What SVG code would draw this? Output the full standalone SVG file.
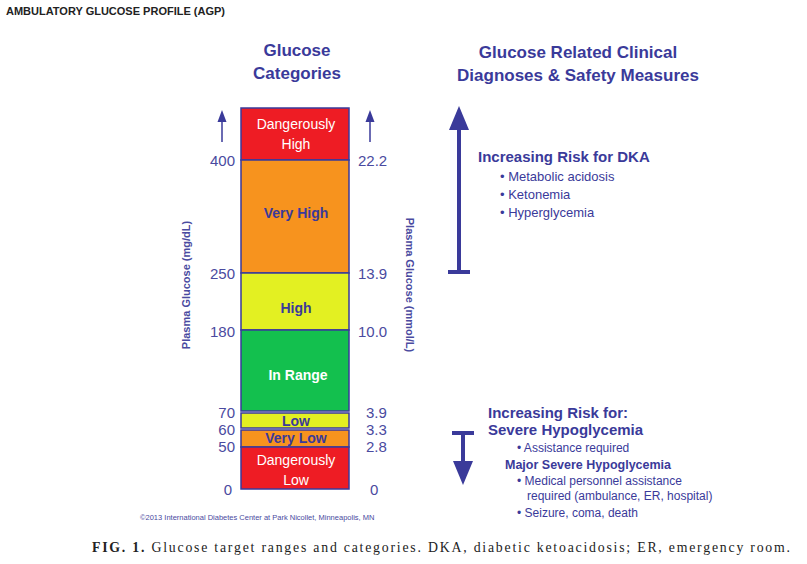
<svg xmlns="http://www.w3.org/2000/svg" width="807" height="564" viewBox="0 0 807 564">
<style>
text{font-family:"Liberation Sans",Arial,sans-serif}
.b{fill:#3a3a9a}
.h{font-weight:bold;fill:#3a3a9a}
.n{font-size:15px;fill:#4a4aa0}
.cat{font-size:14px;text-anchor:middle}
.band{stroke:#3a3a9a;stroke-width:1.5}
.l{stroke:#3a3a9a;stroke-width:4}
</style>
<defs>
<marker id="ah" markerWidth="6" markerHeight="6" refX="3" refY="3" orient="auto" markerUnits="strokeWidth"><path d="M0,0.5L6,3L0,5.5z" fill="#3a3a9a"/></marker>
<marker id="as" markerWidth="8" markerHeight="8" refX="4" refY="4" orient="auto"><path d="M0,1L8,4L0,7z" fill="#3a3a9a"/></marker>
</defs>
<rect width="807" height="564" fill="#fff"/>
<text x="6" y="15" font-size="11" font-weight="bold" fill="#222">AMBULATORY GLUCOSE PROFILE (AGP)</text>
<text x="297" y="56" class="h" font-size="17" text-anchor="middle">Glucose</text>
<text x="297" y="79" class="h" font-size="17" text-anchor="middle">Categories</text>
<text x="578" y="58" class="h" font-size="17" text-anchor="middle">Glucose Related Clinical</text>
<text x="578" y="81" class="h" font-size="17" text-anchor="middle">Diagnoses  &amp;  Safety Measures</text>
<g id="bar">
<rect class="band" x="241" y="108" width="108" height="52" fill="#ee1c24"/>
<rect class="band" x="241" y="160" width="108" height="113" fill="#f7931e"/>
<rect class="band" x="241" y="273" width="108" height="57" fill="#e3f022"/>
<rect class="band" x="241" y="330" width="108" height="81" fill="#13c04e"/>
<rect class="band" x="241" y="413" width="108" height="15" fill="#e3f022"/>
<rect class="band" x="241" y="430" width="108" height="17" fill="#f7931e"/>
<rect class="band" x="241" y="447" width="108" height="42" fill="#ee1c24"/>
<text x="296" y="129" class="cat" fill="#fff">Dangerously</text>
<text x="296" y="149" class="cat" fill="#fff">High</text>
<text x="296" y="218" class="cat b" font-weight="bold">Very High</text>
<text x="296" y="313" class="cat b" font-weight="bold">High</text>
<text x="298" y="380" class="cat" fill="#fff" font-weight="bold">In Range</text>
<text x="296" y="426" class="cat b" font-weight="bold">Low</text>
<text x="296" y="443" class="cat b" font-weight="bold">Very Low</text>
<text x="296" y="465" class="cat" fill="#fff">Dangerously</text>
<text x="296" y="485" class="cat" fill="#fff">Low</text>
</g>
<g id="axes">
<text x="235" y="166" class="n" text-anchor="end">400</text>
<text x="235" y="279" class="n" text-anchor="end">250</text>
<text x="235" y="337" class="n" text-anchor="end">180</text>
<text x="235" y="418" class="n" text-anchor="end">70</text>
<text x="235" y="435" class="n" text-anchor="end">60</text>
<text x="235" y="452" class="n" text-anchor="end">50</text>
<text x="232" y="495" class="n" text-anchor="end">0</text>
<text x="358" y="166" class="n">22.2</text>
<text x="358" y="279" class="n">13.9</text>
<text x="358" y="337" class="n">10.0</text>
<text x="366" y="418" class="n">3.9</text>
<text x="366" y="435" class="n">3.3</text>
<text x="366" y="452" class="n">2.8</text>
<text x="370" y="495" class="n">0</text>
<text transform="translate(190,285) rotate(-90)" font-size="11" font-weight="bold" fill="#4a4aa0" text-anchor="middle">Plasma Glucose (mg/dL)</text>
<text transform="translate(406,285) rotate(90)" font-size="11" font-weight="bold" fill="#4a4aa0" text-anchor="middle">Plasma Glucose (mmol/L)</text>
</g>
<g id="connectors">
<line x1="222" y1="142" x2="222" y2="116" stroke="#3a3a9a" stroke-width="1.5" marker-end="url(#as)"/>
<line x1="370" y1="142" x2="370" y2="116" stroke="#3a3a9a" stroke-width="1.5" marker-end="url(#as)"/>
<line class="l" x1="459" y1="272" x2="459" y2="118" marker-end="url(#ah)"/>
<line class="l" x1="448" y1="272" x2="470" y2="272"/>
<line class="l" x1="463" y1="433" x2="463" y2="473" marker-end="url(#ah)"/>
<line class="l" x1="452" y1="433" x2="474" y2="433"/>
</g>
<g id="dka">
<text x="478" y="162" class="h" font-size="15">Increasing Risk for DKA</text>
<text x="500" y="181" class="b" font-size="13">•  Metabolic acidosis</text>
<text x="500" y="199" class="b" font-size="13">•  Ketonemia</text>
<text x="500" y="217" class="b" font-size="13">•  Hyperglycemia</text>
</g>
<g id="hypo">
<text x="488" y="418" class="h" font-size="15">Increasing Risk for:</text>
<text x="488" y="435" class="h" font-size="15">Severe Hypoglycemia</text>
<text x="517" y="452" class="b" font-size="12">•  Assistance required</text>
<text x="505" y="469" class="h" font-size="12.5">Major Severe Hypoglycemia</text>
<text x="517" y="485" class="b" font-size="12">•  Medical personnel assistance</text>
<text x="527" y="500" class="b" font-size="12">required (ambulance, ER, hospital)</text>
<text x="517" y="517" class="b" font-size="12">•  Seizure, coma, death</text>
</g>
<text x="140" y="520" font-size="7.5" fill="#4a4aa0">©2013 International Diabetes Center  at Park Nicollet, Minneapolis, MN</text>
<text x="92" y="552" font-size="13.8" fill="#222" textLength="698" lengthAdjust="spacing" style="font-family:'Liberation Serif',serif"><tspan font-weight="bold">FIG. 1.</tspan>   Glucose target ranges and categories. DKA, diabetic ketoacidosis; ER, emergency room.</text>
</svg>
